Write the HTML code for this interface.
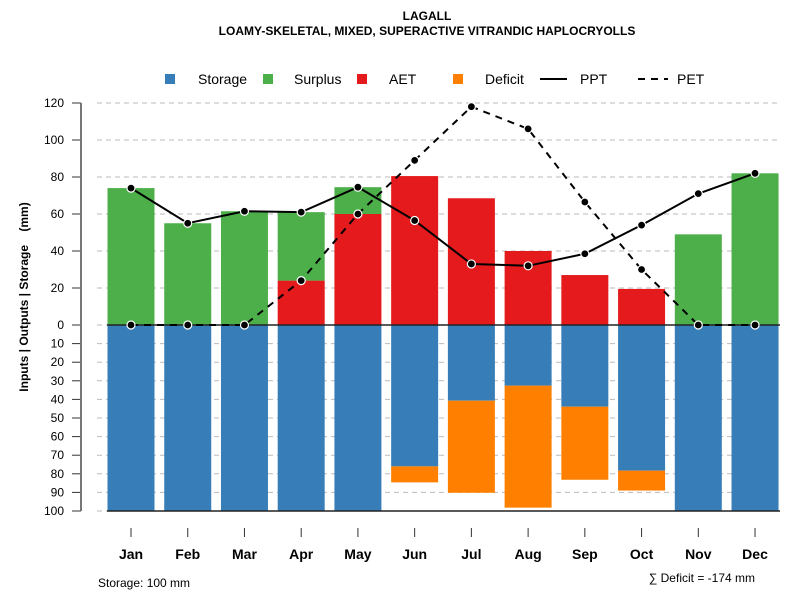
<!DOCTYPE html>
<html><head><meta charset="utf-8"><style>
body{margin:0;background:#fff}
svg text{font-family:"Liberation Sans",Arial,sans-serif}
</style></head><body>
<svg id="c" width="800" height="600" xmlns="http://www.w3.org/2000/svg">
<text x="427" y="20" text-anchor="middle" font-size="12" font-weight="bold">LAGALL</text>
<text x="427" y="35" text-anchor="middle" font-size="12" font-weight="bold">LOAMY-SKELETAL, MIXED, SUPERACTIVE VITRANDIC HAPLOCRYOLLS</text>
<g>
<rect x="165" y="74" width="10" height="10" fill="#377eb8"/>
<text x="198" y="84" font-size="14">Storage</text>
<rect x="263" y="74" width="10" height="10" fill="#4daf4a"/>
<text x="294" y="84" font-size="14">Surplus</text>
<rect x="357" y="74" width="10" height="10" fill="#e41a1c"/>
<text x="389" y="84" font-size="14">AET</text>
<rect x="453" y="74" width="10" height="10" fill="#ff7f00"/>
<text x="485" y="84" font-size="14">Deficit</text>
<line x1="540" y1="79" x2="567" y2="79" stroke="#000" stroke-width="2"/>
<text x="580" y="84" font-size="14">PPT</text>
<line x1="638" y1="79" x2="668" y2="79" stroke="#000" stroke-width="2" stroke-dasharray="7,6"/>
<text x="677" y="84" font-size="14">PET</text>
</g>
<text transform="translate(28,297) rotate(-90)" text-anchor="middle" font-size="12" font-weight="bold">Inputs | Outputs | Storage &#160;&#160;&#160;(mm)</text>
<text x="98" y="587" font-size="12">Storage: 100 mm</text>
<text x="755" y="582" text-anchor="end" font-size="12">∑ Deficit = -174 mm</text>
<g id="g"></g>
</svg>
<script>
const months=["Jan","Feb","Mar","Apr","May","Jun","Jul","Aug","Sep","Oct","Nov","Dec"];
const storage=[100,100,100,100,100,76,40.7,32.6,43.9,78.3,100,100];
const deficit=[0,0,0,0,0,8.6,49.5,65.6,39.3,10.7,0,0];
const aet=[0,0,0,24,60,80.5,68.5,40,27,19.5,0,0];
const surplus=[74,55,61.5,37,14.5,0,0,0,0,0,49,82];
const ppt=[74,55,61.5,61,74.5,56.5,33,32,38.5,54,71,82];
const pet=[0,0,0,24,60,89,118,106,66.5,30,0,0];
const upTicks=[0,20,40,60,80,100,120];
const downTicks=[10,20,30,40,50,60,70,80,90,100];
const NS="http://www.w3.org/2000/svg",g=document.getElementById("g");
const X=i=>131+i*56.73, Yu=v=>325-v*1.85, Yd=v=>325+v*1.86, BW=47;
function mk(t,a){const e=document.createElementNS(NS,t);for(const k in a)e.setAttribute(k,a[k]);g.appendChild(e);return e;}
upTicks.forEach(v=>{const y=Yu(v);
 let l=mk("line",{x1:97,x2:780,y1:y,y2:y,stroke:"#bbb","stroke-dasharray":"5,4"});
 
 
 let t=mk("line",{x1:72,x2:81,y1:y,y2:y,stroke:"#333"});
 
 
 let tx=mk("text",{x:64,y:y+4,"text-anchor":"end","font-size":12});tx.textContent=v;
 
 });
downTicks.forEach(v=>{const y=Yd(v);
 let l=mk("line",{x1:97,x2:780,y1:y,y2:y,stroke:"#bbb","stroke-dasharray":"5,4"});
 
 
 let t=mk("line",{x1:72,x2:81,y1:y,y2:y,stroke:"#333"});
 
 
 let tx=mk("text",{x:64,y:y+4,"text-anchor":"end","font-size":12});tx.textContent=v;
 
 });
let ax=mk("line",{x1:81,x2:81,y1:Yu(120),y2:Yd(100),stroke:"#777","stroke-width":2});


months.forEach((m,i)=>{const x=X(i)-BW/2;
 let b=mk("rect",{x:x,y:325,width:BW,height:storage[i]*1.86,fill:"#377eb8"});
 
 
 if(deficit[i]>0){let d=mk("rect",{x:x,y:Yd(storage[i]),width:BW,height:deficit[i]*1.86,fill:"#ff7f00"});
 
 }
 if(aet[i]>0){let a=mk("rect",{x:x,y:Yu(aet[i]),width:BW,height:aet[i]*1.85,fill:"#e41a1c"});
 
 }
 if(surplus[i]>0){let s=mk("rect",{x:x,y:Yu(aet[i]+surplus[i]),width:BW,height:surplus[i]*1.85,fill:"#4daf4a"});
 
 }
 let t=mk("line",{x1:X(i),x2:X(i),y1:528,y2:537,stroke:"#333"});
 
 
 let tx=mk("text",{x:X(i),y:559,"text-anchor":"middle","font-size":14,"font-weight":"bold"});tx.textContent=m;
 
 });
let z=mk("line",{x1:107,x2:780,y1:325,y2:325,stroke:"#222","stroke-width":1.5});


let bt=mk("line",{x1:107,x2:780,y1:Yd(100),y2:Yd(100),stroke:"#222","stroke-width":1.5});


let l1=mk("polyline",{points:pet.map((v,i)=>X(i)+","+Yu(v)).join(" "),fill:"none",stroke:"#000","stroke-width":2,"stroke-dasharray":"7,6"});


let l2=mk("polyline",{points:ppt.map((v,i)=>X(i)+","+Yu(v)).join(" "),fill:"none",stroke:"#000","stroke-width":2});


pet.forEach((v,i)=>{let c=mk("circle",{cx:X(i),cy:Yu(v),r:4,fill:"#000",stroke:"#fff","stroke-width":1.2});
 
 });
ppt.forEach((v,i)=>{let c=mk("circle",{cx:X(i),cy:Yu(v),r:4,fill:"#000",stroke:"#fff","stroke-width":1.2});
 
 });
</script>
</body></html>
